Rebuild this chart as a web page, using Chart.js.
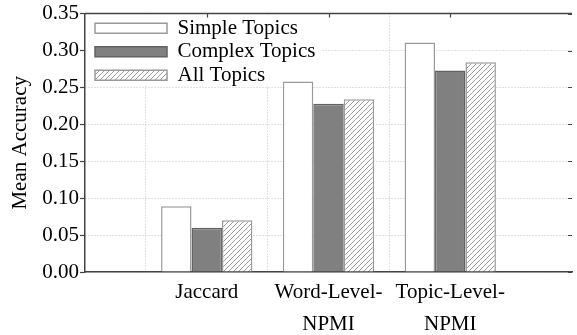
<!DOCTYPE html>
<html>
<head>
<meta charset="utf-8">
<script src="https://cdn.jsdelivr.net/npm/chart.js@4/dist/chart.umd.min.js"></script>
<style>
  html, body { margin: 0; padding: 0; background: #fff; }
  #wrap { width: 577px; height: 335px; }
</style>
</head>
<body>
<div id="wrap"><canvas id="chart" width="577" height="335"></canvas></div>
<script>
// Measures and their mean accuracy per topic group
const categories = ['Jaccard', ['Word-Level-', 'NPMI'], ['Topic-Level-', 'NPMI']];
const seriesNames = ['Simple Topics', 'Complex Topics', 'All Topics'];
const simpleTopics = [0.089, 0.258, 0.311];
const complexTopics = [0.060, 0.228, 0.273];
const allTopics = [0.070, 0.234, 0.284];
const yMin = 0;
const yMax = 0.35;
const yStep = 0.05;

const FONT = "'Liberation Serif', 'Times New Roman', serif";
const AXIS = '#444444';

// empty slots on both sides keep the groups centred on the grid columns
const padSlots = arr => [null, ...arr, null];

function hatchPattern() {
  const s = 5;
  const c = document.createElement('canvas');
  c.width = s; c.height = s;
  const g = c.getContext('2d');
  g.fillStyle = '#ffffff';
  g.fillRect(0, 0, s, s);
  g.strokeStyle = '#9c9c9c';
  g.lineWidth = 1;
  g.beginPath();
  g.moveTo(0, s); g.lineTo(s, 0);
  g.moveTo(-1, 1); g.lineTo(1, -1);
  g.moveTo(s - 1, s + 1); g.lineTo(s + 1, s - 1);
  g.stroke();
  return g.createPattern(c, 'repeat');
}

// top border, inward tick marks on the top and right edges,
// and the legend placed in the upper-left of the plot
const framePlugin = {
  id: 'frame',
  afterLayout(chart) {
    const lg = chart.legend;
    const a = chart.chartArea;
    const lo = lg.options.labels;
    lg.left = a.left + 7.5;
    lg.top = a.top + 1.7;
    lg.right = a.right;
    lg.bottom = a.bottom;
    lg.width = lg.right - lg.left;
    lg.height = lg.bottom - lg.top;
    if (!lg._bgWrapped) {
      const orig = lg.draw;
      lg.draw = function (...args) {
        const c = this.ctx;
        const area = this.chart.chartArea;
        const size = lo.font.size;
        c.save();
        c.font = size + 'px ' + FONT;
        let tw = 0;
        seriesNames.forEach(n => { tw = Math.max(tw, c.measureText(n).width); });
        const x0 = area.left + 1;
        const x1 = this.left + lo.padding + lo.boxWidth + size / 2 + tw + 6;
        const y0 = area.top + 1;
        const y1 = this.top + lo.padding + (seriesNames.length - 1) * (size + lo.padding) + size;
        c.fillStyle = '#ffffff';
        c.fillRect(x0, y0, x1 - x0, y1 - y0);
        c.restore();
        return orig.apply(this, args);
      };
      lg._bgWrapped = true;
    }
  },
  afterDraw(chart) {
    const { ctx, chartArea: a, scales: { x, y } } = chart;
    ctx.save();
    ctx.strokeStyle = AXIS;
    ctx.lineWidth = 1.5;
    ctx.beginPath();
    ctx.moveTo(a.left, a.top);
    ctx.lineTo(a.right, a.top);
    ctx.stroke();
    ctx.lineWidth = 1.2;
    ctx.beginPath();
    for (let i = 1; i < x.ticks.length - 1; i++) {
      const px = Math.round(x.getPixelForTick(i)) + 0.5;
      ctx.moveTo(px, a.top);
      ctx.lineTo(px, a.top + 4);
    }
    y.ticks.forEach(t => {
      const py = Math.round(y.getPixelForValue(t.value)) + 0.5;
      ctx.moveTo(a.right - 4, py);
      ctx.lineTo(a.right, py);
    });
    ctx.stroke();
    ctx.restore();
  }
};

const hatch = hatchPattern();

new Chart(document.getElementById('chart'), {
  type: 'bar',
  data: {
    labels: padSlots(categories).map(l => l === null ? '' : l),
    datasets: [
      {
        label: seriesNames[0],
        data: padSlots(simpleTopics),
        backgroundColor: '#ffffff',
        borderColor: '#9a9a9a',
        borderWidth: 1.5
      },
      {
        label: seriesNames[1],
        data: padSlots(complexTopics),
        backgroundColor: '#808080',
        borderColor: '#626262',
        borderWidth: 1.5
      },
      {
        label: seriesNames[2],
        data: padSlots(allTopics),
        backgroundColor: hatch,
        borderColor: '#9a9a9a',
        borderWidth: 1.5
      }
    ]
  },
  options: {
    responsive: false,
    animation: false,
    devicePixelRatio: 1,
    layout: { padding: { top: 13, right: 0, bottom: 0, left: 0 } },
    datasets: {
      bar: { categoryPercentage: 0.75, barPercentage: 1, borderSkipped: 'start' }
    },
    scales: {
      x: {
        offset: false,
        grid: {
          color: c => (c.index > 0 && c.index < categories.length + 1) ? '#c4c4c4' : 'rgba(0,0,0,0)',
          lineWidth: 1,
          drawTicks: false
        },
        border: { display: true, color: AXIS, width: 1.5, dash: [1, 2] },
        ticks: {
          font: { family: FONT, size: 21, lineHeight: 1.5 },
          color: '#000',
          padding: 5,
          autoSkip: false,
          maxRotation: 0,
          minRotation: 0
        },
        afterFit(s) { s.height = 63; }
      },
      y: {
        min: yMin,
        max: yMax,
        ticks: {
          stepSize: yStep,
          callback: v => Number(v).toFixed(2),
          font: { family: FONT, size: 21 },
          color: '#000',
          padding: 1
        },
        grid: {
          color: '#c4c4c4',
          lineWidth: 1,
          tickColor: AXIS,
          tickLength: 5,
          tickWidth: 1.2
        },
        border: { display: true, color: AXIS, width: 1.5, dash: [1, 2] },
        title: {
          display: true,
          text: 'Mean Accuracy',
          font: { family: FONT, size: 21 },
          color: '#000',
          padding: { top: 8, bottom: 0 }
        },
        afterFit(s) { s.width = 85; }
      }
    },
    plugins: {
      legend: {
        position: 'chartArea',
        align: 'start',
        labels: {
          boxWidth: 72,
          boxHeight: 10,
          padding: 2.5,
          font: { family: FONT, size: 21 },
          color: '#000'
        }
      },
      tooltip: { enabled: false }
    }
  },
  plugins: [framePlugin]
});
</script>
</body>
</html>
